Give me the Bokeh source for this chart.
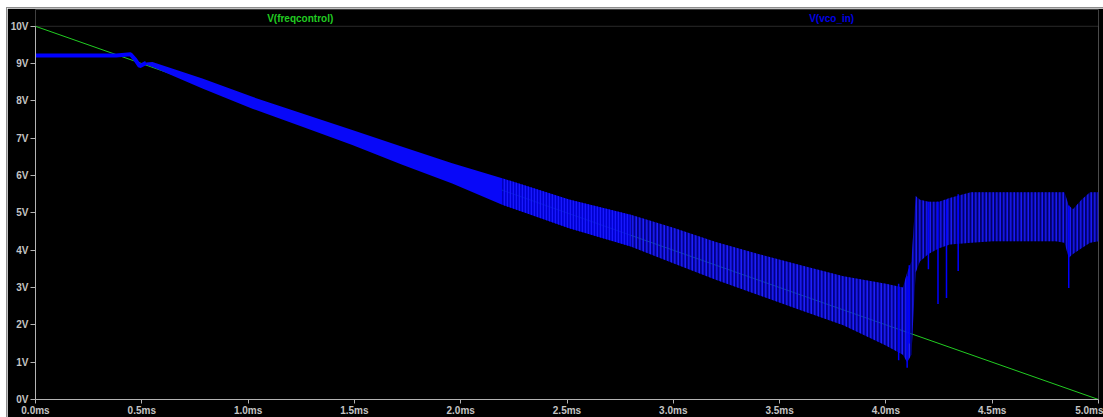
from bokeh.plotting import figure
from bokeh.models import Range1d, FixedTicker, BoxAnnotation, ColumnDataSource
from bokeh.core.properties import value
from bokeh.embed import file_html
from bokeh.resources import INLINE

# V(freqcontrol): linear ramp, time in ms, volts
ramp_t = [0.0, 5.0]
ramp_v = [10.0, 0.0]

# V(vco_in) before lock: settles near 9.22 V
start_t = [0.00, 0.10, 0.20, 0.30, 0.38, 0.42, 0.447, 0.47, 0.49, 0.52]
start_v = [9.22, 9.22, 9.22, 9.22, 9.22, 9.24, 9.25, 9.10, 8.93, 9.02]

# V(vco_in) oscillation envelope (upper / lower peaks)
env_t = [0.52, 0.55, 0.785, 1.02, 1.255, 1.49, 1.725, 1.96, 2.195, 2.51,
         2.80, 3.00, 3.20, 3.40, 3.60, 3.80, 4.00, 4.08, 4.10, 4.12,
         4.14, 4.16, 4.20, 4.25, 4.30, 4.40, 4.50, 4.60, 4.70, 4.80, 4.84,
         4.86, 4.88, 4.92, 4.96, 5.00]
env_hi = [9.03, 9.04, 8.60, 8.11, 7.66, 7.22, 6.77, 6.33, 5.93, 5.36,
          4.95, 4.60, 4.22, 3.90, 3.60, 3.30, 3.10, 3.00, 3.40, 3.70,
          5.45, 5.35, 5.30, 5.30, 5.40, 5.55, 5.55, 5.55, 5.55, 5.55, 5.55,
          5.20, 5.10, 5.35, 5.55, 5.55]
env_lo = [8.97, 8.91, 8.33, 7.79, 7.31, 6.82, 6.29, 5.79, 5.22, 4.59,
          4.10, 3.65, 3.21, 2.80, 2.39, 1.99, 1.45, 1.20, 1.00, 1.20,
          3.40, 3.70, 3.90, 4.05, 4.15, 4.20, 4.24, 4.24, 4.24, 4.24, 4.20,
          3.80, 3.90, 4.05, 4.20, 4.24]

# isolated deep dips of V(vco_in)
dip_t = [4.06, 4.10, 4.11, 4.20, 4.245, 4.285, 4.34, 4.86]
dip_top = [3.10, 3.30, 3.60, 5.30, 5.30, 5.35, 5.50, 5.20]
dip_lo = [1.05, 0.85, 1.50, 3.49, 2.56, 2.72, 3.44, 2.99]

trace_names = ["V(freqcontrol)", "V(vco_in)"]
trace_colors = ["#22cc22", "#0000e6"]
name_t = [1.245, 3.745]

x_ticks = [0.0, 0.5, 1.0, 1.5, 2.0, 2.5, 3.0, 3.5, 4.0, 4.5, 5.0]
x_labels = ["0.0ms", "0.5ms", "1.0ms", "1.5ms", "2.0ms", "2.5ms",
            "3.0ms", "3.5ms", "4.0ms", "4.5ms", "5.0ms"]
y_ticks = [0, 1, 2, 3, 4, 5, 6, 7, 8, 9, 10]
y_labels = ["0V", "1V", "2V", "3V", "4V", "5V", "6V", "7V", "8V", "9V", "10V"]

GREEN = "#22cc22"
BLUE = "#0000ff"
FONT = "Liberation Sans"
Y_TOP = 10.45          # headroom above the 10 V line for the trace names

p = figure(width=1097, height=410, output_backend="svg", toolbar_location=None,
           x_range=Range1d(x_ticks[0], x_ticks[-1]), y_range=Range1d(0, Y_TOP),
           background_fill_color="black", border_fill_color="black",
           min_border_left=27, min_border_right=6, min_border_top=1,
           min_border_bottom=18, margin=(7, 0, 0, 6))
p.styles = {"border-top": "1px solid #8c8c8c", "border-left": "1px solid #8c8c8c"}
p.outline_line_color = None
p.grid.visible = False

# plot frame between 0..10 V
p.add_layout(BoxAnnotation(left=x_ticks[0], right=x_ticks[-1],
                           bottom=y_ticks[0], top=y_ticks[-1],
                           fill_alpha=0, line_color="#8a8a8a", line_width=1,
                           level="underlay"))

for ax in (p.xaxis[0], p.yaxis[0]):
    ax.axis_line_color = "#b4b4b4"
    ax.major_tick_line_color = "#b4b4b4"
    ax.minor_tick_line_color = None
    ax.major_tick_in = 0
    ax.major_label_text_color = "#c4c4c4"
    ax.major_label_text_font = FONT
    ax.major_label_text_font_style = "bold"
    ax.major_label_text_font_size = "10px"

p.xaxis.ticker = FixedTicker(ticks=x_ticks)
p.xaxis.major_label_overrides = dict(zip(x_ticks, x_labels))
p.xaxis.major_tick_out = 4
p.xaxis.major_label_standoff = 1
p.yaxis.ticker = FixedTicker(ticks=y_ticks)
p.yaxis.major_label_overrides = dict(zip(y_ticks, y_labels))
p.yaxis.major_tick_out = 5
p.yaxis.major_label_standoff = 2
p.yaxis.bounds = (y_ticks[0], y_ticks[-1])

# control voltage
p.line(ramp_t, ramp_v, line_color=GREEN, line_width=1)

# VCO input before lock
p.line(start_t, start_v, line_color=BLUE, line_width=4)

# oscillation band: dense part, transition, sparse part, after loss of lock
i1 = env_t.index(2.195)
im = env_t.index(2.80)
i2 = env_t.index(4.12)
p.varea(env_t[:i1 + 1], env_lo[:i1 + 1], env_hi[:i1 + 1],
        fill_color="#0808f8", fill_alpha=1.0)
p.varea(env_t[i1:im + 1], env_lo[i1:im + 1], env_hi[i1:im + 1],
        fill_color="#0000ec", fill_alpha=0.88,
        hatch_pattern="|", hatch_color="#1818ff", hatch_scale=3, hatch_weight=1.5)
p.varea(env_t[im:i2 + 1], env_lo[im:i2 + 1], env_hi[im:i2 + 1],
        fill_color="#0000d0", fill_alpha=0.65,
        hatch_pattern="|", hatch_color="#2020ff", hatch_scale=3.5, hatch_weight=1.5)
p.varea(env_t[i2:], env_lo[i2:], env_hi[i2:],
        fill_color="#0000c0", fill_alpha=0.55,
        hatch_pattern="|", hatch_color="#1a1af8", hatch_scale=3.5, hatch_weight=1.5)
p.segment(dip_t, dip_top, dip_t, dip_lo, line_color=BLUE, line_width=1.5)

# trace names above the 10 V line
names = ColumnDataSource(dict(x=name_t, y=[10.22, 10.22], text=trace_names,
                              color=trace_colors))
p.text(x="x", y="y", text="text", text_color="color", source=names,
       text_font=value(FONT), text_font_style="bold", text_font_size="10px",
       text_align="center", text_baseline="middle")

open("out.html", "w").write(file_html(p, INLINE))
